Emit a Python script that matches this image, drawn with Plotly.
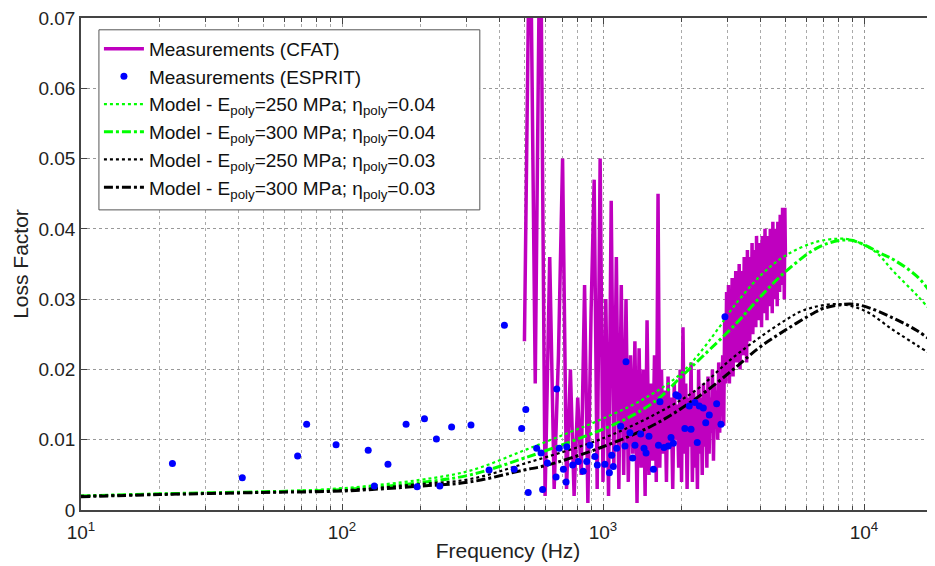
#! python3
"""Loss factor vs frequency: CFAT / ESPRIT measurements against the model curves"""

import numpy as np
import plotly.graph_objects as go

# CFAT measurement, one value every 25 Hz from 500 to 5000 Hz
cfat_freq = np.arange(500, 5001, 25)
cfat_loss = [
    0.024, 0.090, 0.018, 0.090, 0.002, 0.036, 0.003, 0.022, 0.050, 0.003,  # 500-725
    0.020, 0.002, 0.016, 0.005, 0.032, 0.001, 0.028, 0.047, 0.003, 0.050,  # 750-975
    0.004, 0.030, 0.002, 0.044, 0.006, 0.036, 0.003, 0.032, 0.005, 0.030,  # 1000-1225
    0.004, 0.022, 0.008, 0.024, 0.001, 0.023, 0.006, 0.020, 0.002, 0.027,  # 1250-1475
    0.005, 0.018, 0.007, 0.022, 0.004, 0.045, 0.006, 0.020, 0.008, 0.017,  # 1500-1725
    0.004, 0.019, 0.009, 0.016, 0.003, 0.018, 0.010, 0.015, 0.006, 0.020,  # 1750-1975
    0.004, 0.026, 0.008, 0.018, 0.003, 0.016, 0.009, 0.021, 0.004, 0.017,  # 2000-2225
    0.006, 0.015, 0.003, 0.020, 0.008, 0.016, 0.005, 0.018, 0.009, 0.017,  # 2250-2475
    0.006, 0.019, 0.008, 0.016, 0.011, 0.020, 0.007, 0.018, 0.012, 0.017,  # 2500-2725
    0.010, 0.021, 0.011, 0.019, 0.014, 0.022, 0.012, 0.027, 0.018, 0.031,  # 2750-2975
    0.020, 0.032, 0.018, 0.030, 0.022, 0.033, 0.019, 0.031, 0.023, 0.034,  # 3000-3225
    0.021, 0.032, 0.024, 0.035, 0.020, 0.033, 0.025, 0.034, 0.022, 0.036,  # 3250-3475
    0.026, 0.035, 0.021, 0.037, 0.027, 0.034, 0.024, 0.036, 0.028, 0.038,  # 3500-3725
    0.025, 0.036, 0.029, 0.037, 0.026, 0.039, 0.030, 0.036, 0.027, 0.038,  # 3750-3975
    0.031, 0.037, 0.026, 0.039, 0.030, 0.036, 0.028, 0.040, 0.031, 0.038,  # 4000-4225
    0.027, 0.039, 0.032, 0.037, 0.029, 0.040, 0.033, 0.038, 0.028, 0.041,  # 4250-4475
    0.032, 0.039, 0.030, 0.040, 0.034, 0.038, 0.029, 0.041, 0.033, 0.040,  # 4500-4725
    0.031, 0.042, 0.034, 0.039, 0.032, 0.043, 0.035, 0.041, 0.030, 0.043,  # 4750-4975
    0.036,  # 5000
]

# ESPRIT measurement points
esprit_freq = [
    22.4, 41.5, 67.6, 73.2, 94.9, 126, 133, 150, 176, 194, 207, 230, 237, 263,
    312, 366, 419, 457, 488, 506, 517, 557, 579, 587, 612, 661, 665, 680, 705,
    722, 726, 765, 804, 840, 866, 891, 931, 951, 1017, 1058, 1080, 1095, 1128,
    1169, 1214, 1225, 1268, 1299, 1326, 1394, 1436, 1462, 1500, 1560, 1631,
    1653, 1713, 1779, 1822, 1860, 1904, 1943, 2059, 2141, 2174, 2250, 2297,
    2339, 2423, 2475, 2554, 2725, 2831, 2932,
]
esprit_loss = [
    0.0066, 0.0046, 0.0077, 0.0122, 0.0093, 0.0085, 0.0034, 0.0065, 0.0122,
    0.0033, 0.0130, 0.0101, 0.0034, 0.0118, 0.0121, 0.0057, 0.0263, 0.0058,
    0.0116, 0.0143, 0.0025, 0.0088, 0.0081, 0.0029, 0.0067, 0.0047, 0.0172,
    0.0088, 0.0058, 0.0040, 0.0090, 0.0064, 0.0069, 0.0055, 0.0069, 0.0092,
    0.0076, 0.0064, 0.0065, 0.0053, 0.0078, 0.0062, 0.0088, 0.0119, 0.0091,
    0.0211, 0.0110, 0.0074, 0.0092, 0.0108, 0.0088, 0.0081, 0.0105, 0.0058,
    0.0092, 0.0154, 0.0089, 0.0091, 0.0103, 0.0095, 0.0164, 0.0162, 0.0116,
    0.0148, 0.0115, 0.0153, 0.0096, 0.0148, 0.0145, 0.0124, 0.0135, 0.0151,
    0.0122, 0.0275,
]

# model curves
m250_04_freq = [10, 20, 50, 100, 200, 310, 500, 750, 1000, 1400, 2000, 2800,
                3000, 4000, 5000, 6500, 8000, 9000, 11000, 13000, 16000, 18700]
m250_04_loss = [0.0020, 0.0023, 0.0026, 0.0031, 0.0043, 0.0056, 0.0085, 0.0111,
                0.0130, 0.0156, 0.0195, 0.0261, 0.0278, 0.0333, 0.0362, 0.0381,
                0.0386, 0.0384, 0.0368, 0.0339, 0.0305, 0.0277]

m300_04_freq = [10, 20, 50, 100, 200, 310, 500, 840, 1200, 1600, 2000, 2400,
                3250, 4000, 5000, 6800, 8800, 11900, 13000, 16000, 18700]
m300_04_loss = [0.0020, 0.0023, 0.0026, 0.0029, 0.0039, 0.0050, 0.0074, 0.0104,
                0.0128, 0.0156, 0.0190, 0.0218, 0.0266, 0.0303, 0.0339, 0.0375,
                0.0384, 0.0363, 0.0356, 0.0332, 0.0301]

m250_03_freq = [10, 20, 50, 100, 200, 310, 500, 1000, 1600, 2280, 3060, 4000,
                5000, 5850, 7860, 10000, 12950, 16000, 18700]
m250_03_loss = [0.0020, 0.0022, 0.0025, 0.0028, 0.0037, 0.0044, 0.0066, 0.0102,
                0.0137, 0.0171, 0.0213, 0.0246, 0.0270, 0.0284, 0.0293, 0.0284,
                0.0256, 0.0234, 0.0218]

m300_03_freq = [10, 20, 50, 100, 200, 310, 500, 600, 1000, 1600, 2420, 3250,
                4000, 5000, 6400, 7000, 8800, 10000, 12950, 16000, 18700]
m300_03_loss = [0.0019, 0.0022, 0.0025, 0.0027, 0.0034, 0.0040, 0.0057, 0.0063,
                0.0090, 0.0123, 0.0166, 0.0204, 0.0232, 0.0256, 0.0280, 0.0287,
                0.0293, 0.0290, 0.0273, 0.0255, 0.0237]

x_ticks = [10, 100, 1000, 10000]
x_text = ["10<sup>1</sup>", "10<sup>2</sup>", "10<sup>3</sup>", "10<sup>4</sup>"]
y_ticks = [0, 0.01, 0.02, 0.03, 0.04, 0.05, 0.06, 0.07]
y_text = ["0", "0.01", "0.02", "0.03", "0.04", "0.05", "0.06", "0.07"]

FONT = "Liberation Sans, Arial, sans-serif"

fig = go.Figure()

fig.add_trace(go.Scatter(
    x=cfat_freq, y=cfat_loss, mode="lines",
    line=dict(color="rgb(191,0,191)", width=3.5),
    name="Measurements (CFAT)", legendrank=1,
))

models = [
    (m250_04_freq, m250_04_loss, "rgb(0,255,0)", "dot", 2.2, "250", "0.04"),
    (m300_04_freq, m300_04_loss, "rgb(0,255,0)", "dashdot", 3, "300", "0.04"),
    (m250_03_freq, m250_03_loss, "black", "dot", 2.2, "250", "0.03"),
    (m300_03_freq, m300_03_loss, "black", "dashdot", 3, "300", "0.03"),
]
for i, (fx, fy, col, dash, w, e, eta) in enumerate(models):
    fig.add_trace(go.Scatter(
        x=fx, y=fy, mode="lines", line_shape="spline",
        line=dict(color=col, dash=dash, width=w),
        name=f"Model - E<sub>poly</sub>={e} MPa; η<sub>poly</sub>={eta}",
        legendrank=3 + i,
    ))

fig.add_trace(go.Scatter(
    x=esprit_freq, y=esprit_loss, mode="markers",
    marker=dict(color="rgb(0,0,255)", size=7),
    name="Measurements (ESPRIT)", legendrank=2,
))

# minor grid at 2..9 of each decade
minor_ticks = [m * d for d in (10, 100, 1000, 10000) for m in range(2, 10)]

# legend frame is drawn as a shape so it can be wider than plotly's own box
fig.add_shape(
    type="rect", xref="paper", yref="paper",
    x0=0.021, x1=0.467, y0=0.61, y1=0.976,
    line=dict(color="#555", width=1), fillcolor="white", layer="above",
)

# the page puts the figure 8 px in from the window corner, margins allow for it
fig.update_layout(
    width=935, height=566,
    margin=dict(l=73, r=8, t=10, b=64, autoexpand=False),
    plot_bgcolor="white", paper_bgcolor="white",
    font=dict(family=FONT, size=19, color="#222"),
    xaxis=dict(
        type="log", range=[1, 4.272],
        tickmode="array", tickvals=x_ticks, ticktext=x_text,
        ticks="inside", ticklen=6, tickcolor="#444", ticklabelstandoff=4,
        ticklabeloverflow="allow",
        showgrid=True, gridcolor="#999", griddash="dot", gridwidth=1,
        minor=dict(tickmode="array", tickvals=minor_ticks, ticks="inside",
                   ticklen=4, tickcolor="#444", showgrid=True,
                   gridcolor="#aaa", griddash="dot", gridwidth=1),
        showline=True, linecolor="#444", linewidth=1.5, mirror="ticks",
        zeroline=False, automargin=False,
        title=dict(text="Frequency (Hz)", standoff=2,
                   font=dict(family=FONT, size=21, color="#222")),
    ),
    yaxis=dict(
        range=[0, 0.07],
        tickmode="array", tickvals=y_ticks, ticktext=y_text,
        ticks="inside", ticklen=6, tickcolor="#444",
        ticklabeloverflow="allow",
        showgrid=True, gridcolor="#999", griddash="dot", gridwidth=1,
        showline=True, linecolor="#444", linewidth=1.5,
        zeroline=False, automargin=False,
        title=dict(text="Loss Factor", standoff=4,
                   font=dict(family=FONT, size=21, color="#222")),
    ),
    legend=dict(
        x=0.021, y=0.976, xanchor="left", yanchor="top",
        bgcolor="rgba(0,0,0,0)", borderwidth=0,
        font=dict(size=19, color="#111"),
        itemwidth=40, tracegroupgap=0,
    ),
)

fig.write_html("out.html")
